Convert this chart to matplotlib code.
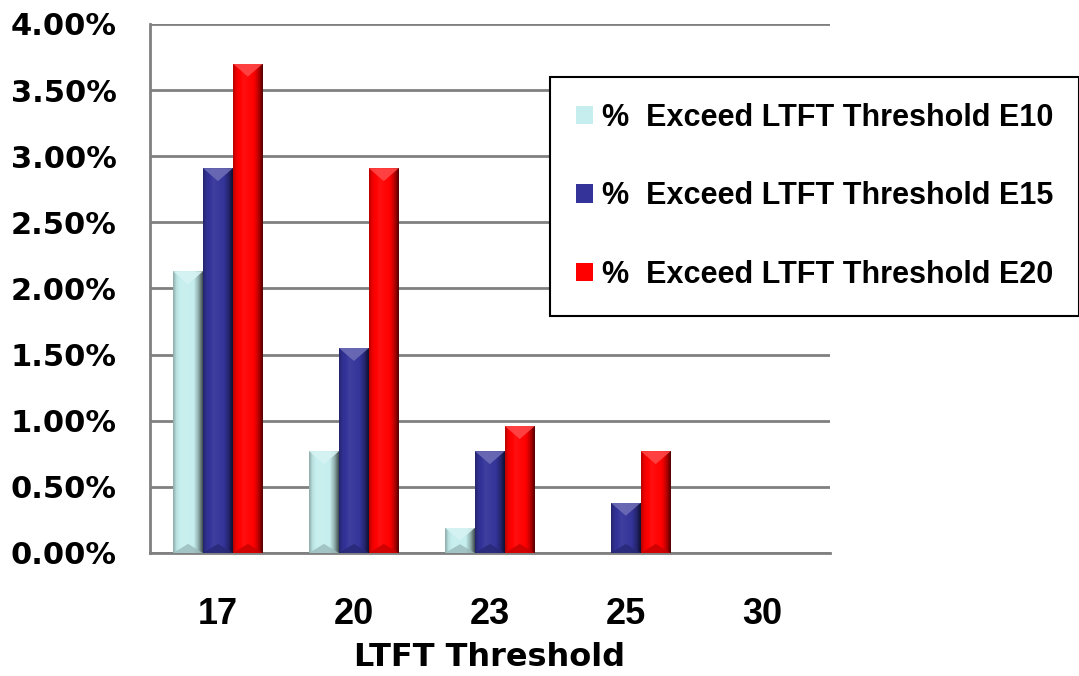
import numpy as np
import matplotlib
matplotlib.use('Agg')
import matplotlib.pyplot as plt
from matplotlib.colors import to_rgb
from matplotlib.patches import Polygon
from matplotlib.ticker import FuncFormatter

# LTFT threshold categories and share of samples exceeding them (%)
thresholds = ['17', '20', '23', '25', '30']
e10 = [2.13, 0.77, 0.19, 0.0, 0.0]
e15 = [2.91, 1.55, 0.77, 0.38, 0.0]
e20 = [3.70, 2.91, 0.96, 0.77, 0.0]
series = [e10, e15, e20]
labels = ['%  Exceed LTFT Threshold E10',
          '%  Exceed LTFT Threshold E15',
          '%  Exceed LTFT Threshold E20']
colors = ['#c6eeee', '#333399', '#ff0000']

GRID = '#808080'


def tint(rgb, f):
    rgb = np.asarray(rgb)
    if f >= 1:
        return np.clip(rgb + (1 - rgb) * (f - 1), 0, 1)
    return np.clip(rgb * f, 0, 1)


def bevel(ax, patch, color):
    # fake 3d look: horizontal shading plus light top / dark bottom chevrons
    x0, y0 = patch.get_x(), patch.get_y()
    w, h = patch.get_width(), patch.get_height()
    if h <= 0:
        return
    base = to_rgb(color)
    t = np.linspace(0, 1, 80)
    shade = np.interp(t, [0, 0.12, 0.35, 0.7, 0.86, 1.0],
                      [0.72, 0.95, 1.06, 1.0, 0.72, 0.32])
    img = np.array([[tint(base, s) for s in shade]])
    im = ax.imshow(img, extent=(x0, x0 + w, y0, y0 + h), aspect='auto',
                   interpolation='bilinear', zorder=patch.get_zorder() + 0.1)
    im.set_clip_path(patch)

    # chevron depth in data units (about 13 px)
    px_y = (ax.get_ylim()[1] - ax.get_ylim()[0]) / ax.bbox.height
    d = min(13 * px_y, h / 2)
    xc = x0 + w / 2
    top = Polygon([(x0, y0 + h), (x0 + w, y0 + h), (xc, y0 + h - d)],
                  closed=True, color=tint(base, 1.28), alpha=0.9, lw=0,
                  zorder=patch.get_zorder() + 0.2)
    bot = Polygon([(x0, y0), (x0 + w, y0), (xc, y0 + min(d * 0.7, h / 2))],
                  closed=True, color=tint(base, 0.78), alpha=0.8, lw=0,
                  zorder=patch.get_zorder() + 0.2)
    for p in (top, bot):
        ax.add_patch(p)
        p.set_clip_path(patch)


fig = plt.figure(figsize=(10.79, 6.76), dpi=100)
ax = fig.add_axes([0.139, 0.182, 0.630, 0.7825])

x = np.arange(len(thresholds))
width = 0.22
ax.set_xlim(-0.5, len(thresholds) - 0.5)
ax.set_ylim(0, 4.0)

containers = []
for i, (vals, col, lab) in enumerate(zip(series, colors, labels)):
    bars = ax.bar(x + (i - 1) * width, vals, width, color=col, label=lab,
                  linewidth=0, zorder=3)
    containers.append(bars)
    for p in bars:
        bevel(ax, p, col)

ax.set_xlim(-0.5, len(thresholds) - 0.5)
ax.set_ylim(0, 4.0)

ax.set_yticks(np.arange(0, 4.01, 0.5))
ax.yaxis.set_major_formatter(FuncFormatter(lambda v, _: f'{v:.2f}%'))
ax.yaxis.grid(True, color=GRID, linewidth=2.0, zorder=0)
ax.set_axisbelow(True)
ax.set_xticks(x)
ax.set_xticklabels(thresholds)

for s in ['top', 'right']:
    ax.spines[s].set_visible(False)
for s in ['left', 'bottom']:
    ax.spines[s].set_color(GRID)
    ax.spines[s].set_linewidth(2.0)

ax.tick_params(axis='y', length=0, pad=24)
ax.tick_params(axis='x', length=0, pad=32)
for lbl in ax.get_yticklabels():
    lbl.set_fontfamily('DejaVu Sans')
    lbl.set_fontweight('bold')
    lbl.set_fontsize(22)
for lbl in ax.get_xticklabels():
    lbl.set_fontfamily('Liberation Sans')
    lbl.set_fontweight('bold')
    lbl.set_fontsize(26)

ax.set_xlabel('LTFT Threshold', fontfamily='DejaVu Sans', fontweight='bold',
              fontsize=23, labelpad=7)

leg = fig.legend(handles=containers, loc='upper left',
                 bbox_to_anchor=(0.5098, 0.886), frameon=True,
                 prop={'family': 'Liberation Sans', 'weight': 'bold', 'size': 22},
                 handlelength=0.55, handleheight=0.55, handletextpad=0.3,
                 labelspacing=1.58, borderpad=0.85, fancybox=False,
                 borderaxespad=0)
leg.get_frame().set_edgecolor('black')
leg.get_frame().set_linewidth(1.5)
leg.get_frame().set_facecolor('white')
leg.get_frame().set_alpha(1)

fig.savefig('out.png', dpi=100)
